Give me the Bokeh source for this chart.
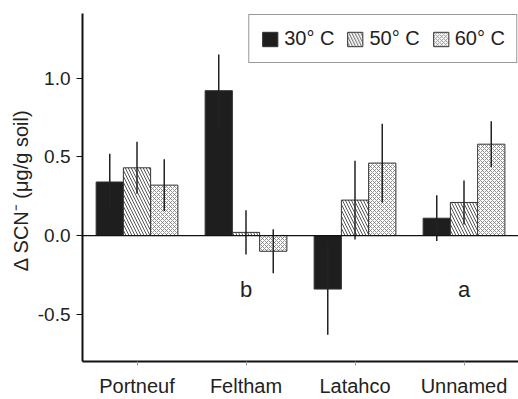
from bokeh.plotting import figure
from bokeh.models import (FactorRange, Range1d, Span, Legend, LegendItem,
                          FixedTicker, ColumnDataSource)
from bokeh.transform import dodge
from bokeh.core.properties import value
from bokeh.embed import file_html
from bokeh.resources import INLINE

# ---- data ----
sites = ["Portneuf", "Feltham", "Latahco", "Unnamed"]
temps = ["30\u00b0 C", "50\u00b0 C", "60\u00b0 C"]
t30 = [0.34, 0.92, -0.34, 0.11]
t30_err = [0.18, 0.23, 0.29, 0.145]
t50 = [0.43, 0.02, 0.225, 0.21]
t50_err = [0.165, 0.14, 0.25, 0.14]
t60 = [0.32, -0.10, 0.46, 0.58]
t60_err = [0.165, 0.14, 0.25, 0.145]
letter_sites = ["Feltham", "Unnamed"]
letters = ["b", "a"]
letter_y = [-0.34, -0.34]
y_ticks = [-0.5, 0.0, 0.5, 1.0]
y_tick_labels = ["-0.5", "0.0", "0.5", "1.0"]
y_title = "\u0394 SCN\u207b  (\u03bcg/g soil)"

FONT = "Liberation Sans"
TXT = "#222222"

src = ColumnDataSource(dict(
    site=sites,
    t30=t30, t30_lo=[v - e for v, e in zip(t30, t30_err)], t30_hi=[v + e for v, e in zip(t30, t30_err)],
    t50=t50, t50_lo=[v - e for v, e in zip(t50, t50_err)], t50_hi=[v + e for v, e in zip(t50, t50_err)],
    t60=t60, t60_lo=[v - e for v, e in zip(t60, t60_err)], t60_hi=[v + e for v, e in zip(t60, t60_err)],
))

p = figure(width=518, height=399, x_range=FactorRange(*sites), y_range=Range1d(-0.80, 1.41),
           output_backend="svg", toolbar_location=None,
           min_border_left=82, min_border_right=0, min_border_top=13, min_border_bottom=36)
p.outline_line_color = None
p.xgrid.grid_line_color = None
p.ygrid.grid_line_color = None
p.background_fill_color = "white"
p.border_fill_color = "white"

bw = 0.25
styles = [
    dict(fill_color="#1e1e1e"),
    dict(fill_color="white", hatch_pattern="\\", hatch_color="#555555", hatch_scale=6, hatch_weight=1),
    dict(fill_color="white", hatch_pattern="x", hatch_color="#777777", hatch_scale=4, hatch_weight=0.8),
]
keys = ["t30", "t50", "t60"]
offs = [-0.25, 0.0, 0.25]
bars = []
for k, off, st in zip(keys, offs, styles):
    r = p.vbar(x=dodge("site", off, range=p.x_range), top=k, bottom=0, width=bw, source=src,
               line_color="#333333", line_width=1, **st)
    bars.append(r)

p.add_layout(Span(location=0, dimension="width", line_color="#111111", line_width=1.3))

for k, off in zip(keys, offs):
    p.segment(x0=dodge("site", off, range=p.x_range), x1=dodge("site", off, range=p.x_range),
              y0=k + "_lo", y1=k + "_hi", source=src, line_color="#222222", line_width=1.5)

p.text(x=letter_sites, y=letter_y, text=letters, text_font=value(FONT), text_font_size="22px",
       text_align="center", text_baseline="middle", text_color=TXT)

# axes
p.yaxis.ticker = FixedTicker(ticks=y_ticks)
p.yaxis.major_label_overrides = {t: l for t, l in zip(y_ticks, y_tick_labels)}
p.yaxis.minor_tick_line_color = None
p.yaxis.major_tick_in = 0
p.yaxis.major_tick_out = 6
p.yaxis.axis_line_width = 2
p.yaxis.axis_line_color = "#111111"
p.yaxis.major_tick_line_color = "#111111"
p.yaxis.major_label_text_font = FONT
p.yaxis.major_label_text_font_size = "19px"
p.yaxis.major_label_text_color = TXT
p.yaxis.major_label_standoff = 6
p.yaxis.axis_label = y_title
p.yaxis.axis_label_text_font = FONT
p.yaxis.axis_label_text_font_style = "normal"
p.yaxis.axis_label_text_font_size = "20px"
p.yaxis.axis_label_text_color = TXT
p.yaxis.axis_label_standoff = 3

p.xaxis.axis_line_width = 2
p.xaxis.axis_line_color = "#111111"
p.xaxis.major_tick_in = 0
p.xaxis.major_tick_out = 4
p.xaxis.major_tick_line_color = "#999999"
p.xaxis.major_label_text_font = FONT
p.xaxis.major_label_text_font_size = "20px"
p.xaxis.major_label_text_color = TXT
p.xaxis.major_label_standoff = 9

legend = Legend(items=[LegendItem(label=t, renderers=[r]) for t, r in zip(temps, bars)],
                location="top_right", orientation="horizontal")
legend.label_text_font = FONT
legend.label_text_font_size = "20px"
legend.label_text_color = TXT
legend.glyph_width = 19
legend.glyph_height = 18
legend.label_height = 25
legend.label_standoff = 5
legend.spacing = 11
legend.padding = 11
legend.margin = 1
legend.border_line_color = "#333333"
legend.border_line_width = 1.5
legend.background_fill_alpha = 1
p.add_layout(legend)

open("out.html", "w").write(file_html(p, INLINE))
